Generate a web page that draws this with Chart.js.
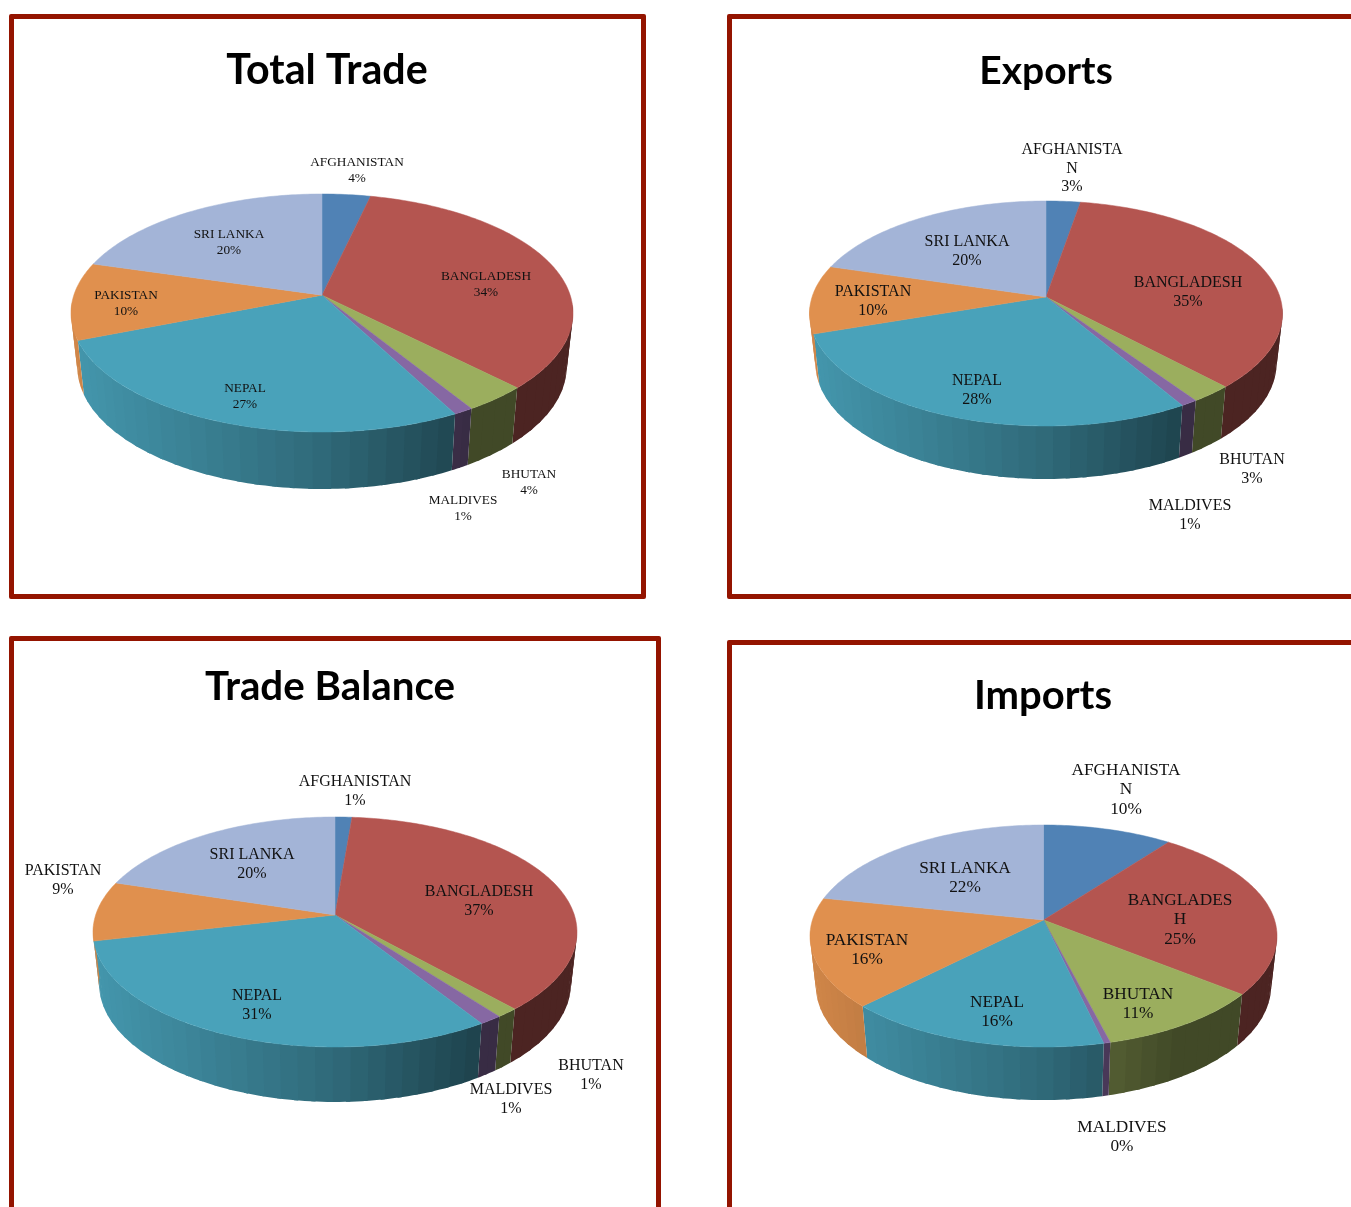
<!DOCTYPE html>
<html><head><meta charset="utf-8">
<script src="https://cdn.jsdelivr.net/npm/chart.js@4"></script>
<style>
html,body{margin:0;padding:0;background:#fff;overflow:hidden;width:1351px;height:1207px}
.frame{position:absolute;box-sizing:border-box;border:5px solid #941400;border-radius:2px}
canvas{position:absolute;display:block}
</style></head><body>
<script>
// ---- data ----
const categories = ["AFGHANISTAN","BANGLADESH","BHUTAN","MALDIVES","NEPAL","PAKISTAN","SRI LANKA"];
// slice sizes as measured on the picture
const totalTrade   = [3.6,34,3.6,1.1,26.7,10.5,20.5];
const exportsShare = [2.7,35.3,2.5,1,28.3,9.8,20.4];
const tradeBalance = [1.3,37.05,1.3,1.35,30.4,8.4,20.2];
const importsShare = [10.3,25.4,10.3,0.4,16,15.9,21.7];
// percentages printed beside the slices
const totalTradeLabels   = [4,34,4,1,27,10,20];
const exportsLabels      = [3,35,3,1,28,10,20];
const tradeBalanceLabels = [1,37,1,1,31,9,20];
const importsLabels      = [10,25,11,0,16,16,22];
const titles = ["Total Trade","Exports","Trade Balance","Imports"];
const sliceColors = ["#5082b5","#b45550","#9bae5e","#8668a3","#49a2ba","#e0904e","#a3b4d7"];

// ---- layout only (page pixels) ----
const panels = [
 {values:totalTrade, printed:totalTradeLabels, title:titles[0], frame:[9,14,637,585], cw:637,ch:585, titleX:327,titleY:71,titleSize:41.2,
  cx:322,cy:313,a:251,b:119,k:0.15,depth:53.4, font:13.3,lh:16,
  lines:{}, pos:[[357,163],[486,277],[529,475],[463,501],[245,389],[126,296],[229,235]]},
 {values:exportsShare, printed:exportsLabels, title:titles[1], frame:[727,14,800,585], cw:624,ch:585, titleX:1046,titleY:71,titleSize:39,
  cx:1046,cy:313.5,a:236.5,b:112.5,k:0.147,depth:49.6, font:16,lh:18.5,
  lines:{0:["AFGHANISTA","N"]}, pos:[[1072,150],[1188,283],[1252,460],[1190,506],[977,381],[873,292],[967,242]]},
 {values:tradeBalance, printed:tradeBalanceLabels, title:titles[2], frame:[9,636,652,800], cw:652,ch:571, titleX:330,titleY:687,titleSize:40.3,
  cx:335,cy:932,a:242,b:115,k:0.148,depth:51.5, font:16,lh:19,
  lines:{}, pos:[[355,782],[479,892],[591,1066],[511,1090],[257,996],[63,871],[252,855]]},
 {values:importsShare, printed:importsLabels, title:titles[3], frame:[727,640,800,800], cw:624,ch:567, titleX:1043,titleY:696,titleSize:40,
  cx:1043.5,cy:936,a:233.5,b:111,k:0.144,depth:49.7, font:17.3,lh:19.5,
  lines:{0:["AFGHANISTA","N"],1:["BANGLADES","H"]}, pos:[[1126,770],[1180,900],[1138,994],[1122,1127],[997,1002],[867,940],[965,868]]}
];
const botScaleX = 0.975, botScaleY = 1.03;

function hexRgb(h){return [1,3,5].map(i=>parseInt(h.substr(i,2),16));}
function shade(t){return Math.max(0.42,t<0.5?0.93-0.56*t:0.65-0.8*(t-0.5));}

const pie3d = {
 id:'pie3d',
 afterLayout(chart,args,o){
  const p=o.panel, x0=p.frame[0], y0=p.frame[1];
  const ca=chart.chartArea, cx=p.cx-x0, cy=p.cy-y0;
  ca.left=cx-p.a; ca.right=cx+p.a; ca.top=cy-p.a; ca.bottom=cy+p.a;
  ca.width=2*p.a; ca.height=2*p.a;
  const tb=chart.titleBlock;
  const w=tb.right-tb.left, tx=p.titleX-x0;
  tb.left=tx-w/2; tb.right=tx+w/2;
  const h=tb.bottom-tb.top, ty=p.titleY-y0;
  tb.top=ty-h/2; tb.bottom=ty+h/2;
 },
 beforeDatasetsDraw(chart,args,o){
  const p=o.panel, ctx=chart.ctx, meta=chart.getDatasetMeta(0);
  const el0=meta.data[0], X=el0.x, Y=el0.y, A=el0.outerRadius, B=p.b;
  const s=Math.sqrt(1-p.k*p.k);
  const map=t=>{const u=Math.cos(t),v=-Math.sin(t),w=1+p.k*v;return [u*s/w,(v+p.k)/w];};
  const top=t=>{const m=map(t);return [X+A*m[0],Y-B*m[1]];};
  const bot=t=>{const m=map(t);
    return [X+A*botScaleX*m[0],Y+p.depth-B*botScaleY*m[1]];};
  // walls: bands overlap the next one so that no seams show
  meta.data.forEach((el,i)=>{
   const rgb=hexRgb(sliceColors[i]);
   const span=el.endAngle-el.startAngle;
   const n=Math.max(1,Math.ceil(span/(Math.PI/48)));
   for(let j=0;j<n;j++){
    const t0=el.startAngle+span*j/n;
    const t1=el.startAngle+span*(j+1)/n;
    if(map(t0)[1]>0.02&&map(t1)[1]>0.02) continue;
    const a0=top(t0),c0=bot(t0);
    const tm=(a0[0]+top(t1)[0])/2;
    const col=`rgb(${rgb.map(c=>Math.round(c*shade((tm-(X-A))/(2*A)))).join(',')})`;
    ctx.beginPath();ctx.moveTo(a0[0],a0[1]);
    const steps=4,over=Math.min(span*(n-j)/n,span/n*1.25);
    for(let q=1;q<=steps;q++){const pt=top(t0+over*q/steps);ctx.lineTo(pt[0],pt[1]);}
    for(let q=steps;q>=1;q--){const pt=bot(t0+over*q/steps);ctx.lineTo(pt[0],pt[1]);}
    ctx.lineTo(c0[0],c0[1]);ctx.closePath();
    ctx.fillStyle=col;ctx.fill();
   }
  });
  // top faces
  const apex=[X,Y-B*p.k];
  meta.data.forEach((el,i)=>{
   const n=Math.max(2,Math.ceil((el.endAngle-el.startAngle)/(Math.PI/180)));
   ctx.beginPath();ctx.moveTo(apex[0],apex[1]);
   for(let j=0;j<=n;j++){
    const pt=top(el.startAngle+(el.endAngle-el.startAngle)*j/n);
    ctx.lineTo(pt[0],pt[1]);
   }
   ctx.closePath();
   ctx.fillStyle=sliceColors[i];ctx.strokeStyle=sliceColors[i];ctx.lineWidth=0.5;ctx.fill();ctx.stroke();
  });
  // data labels
  ctx.fillStyle='#111';ctx.textAlign='center';ctx.textBaseline='middle';
  ctx.font=`${p.font}px "Liberation Serif"`;
  categories.forEach((c,i)=>{
   const lines=(p.lines[i]||[c]).concat(p.printed[i]+'%');
   lines.forEach((l,j)=>ctx.fillText(l,p.pos[i][0]-p.frame[0],p.pos[i][1]-p.frame[1]+j*p.lh));
  });
  return false;
 }
};

panels.forEach(p=>{
 const f=document.createElement('div');f.className='frame';
 f.style.cssText=`left:${p.frame[0]}px;top:${p.frame[1]}px;width:${p.frame[2]}px;height:${p.frame[3]}px`;
 document.body.appendChild(f);
 const cv=document.createElement('canvas');
 cv.width=p.cw;cv.height=p.ch;
 cv.style.cssText=`left:${p.frame[0]}px;top:${p.frame[1]}px;width:${p.cw}px;height:${p.ch}px`;
 document.body.appendChild(cv);
 new Chart(cv,{
  type:'pie',
  plugins:[pie3d],
  data:{labels:categories,datasets:[{data:p.values,backgroundColor:sliceColors,borderWidth:0}]},
  options:{
   responsive:false,animation:false,devicePixelRatio:1,
   plugins:{
    legend:{display:false},tooltip:{enabled:false},
    title:{display:true,text:p.title,color:'#000',padding:0,
      font:{family:'Lato',weight:'bold',size:p.titleSize}},
    pie3d:{panel:p}
   }
  }
 });
});
</script>
</body></html>
